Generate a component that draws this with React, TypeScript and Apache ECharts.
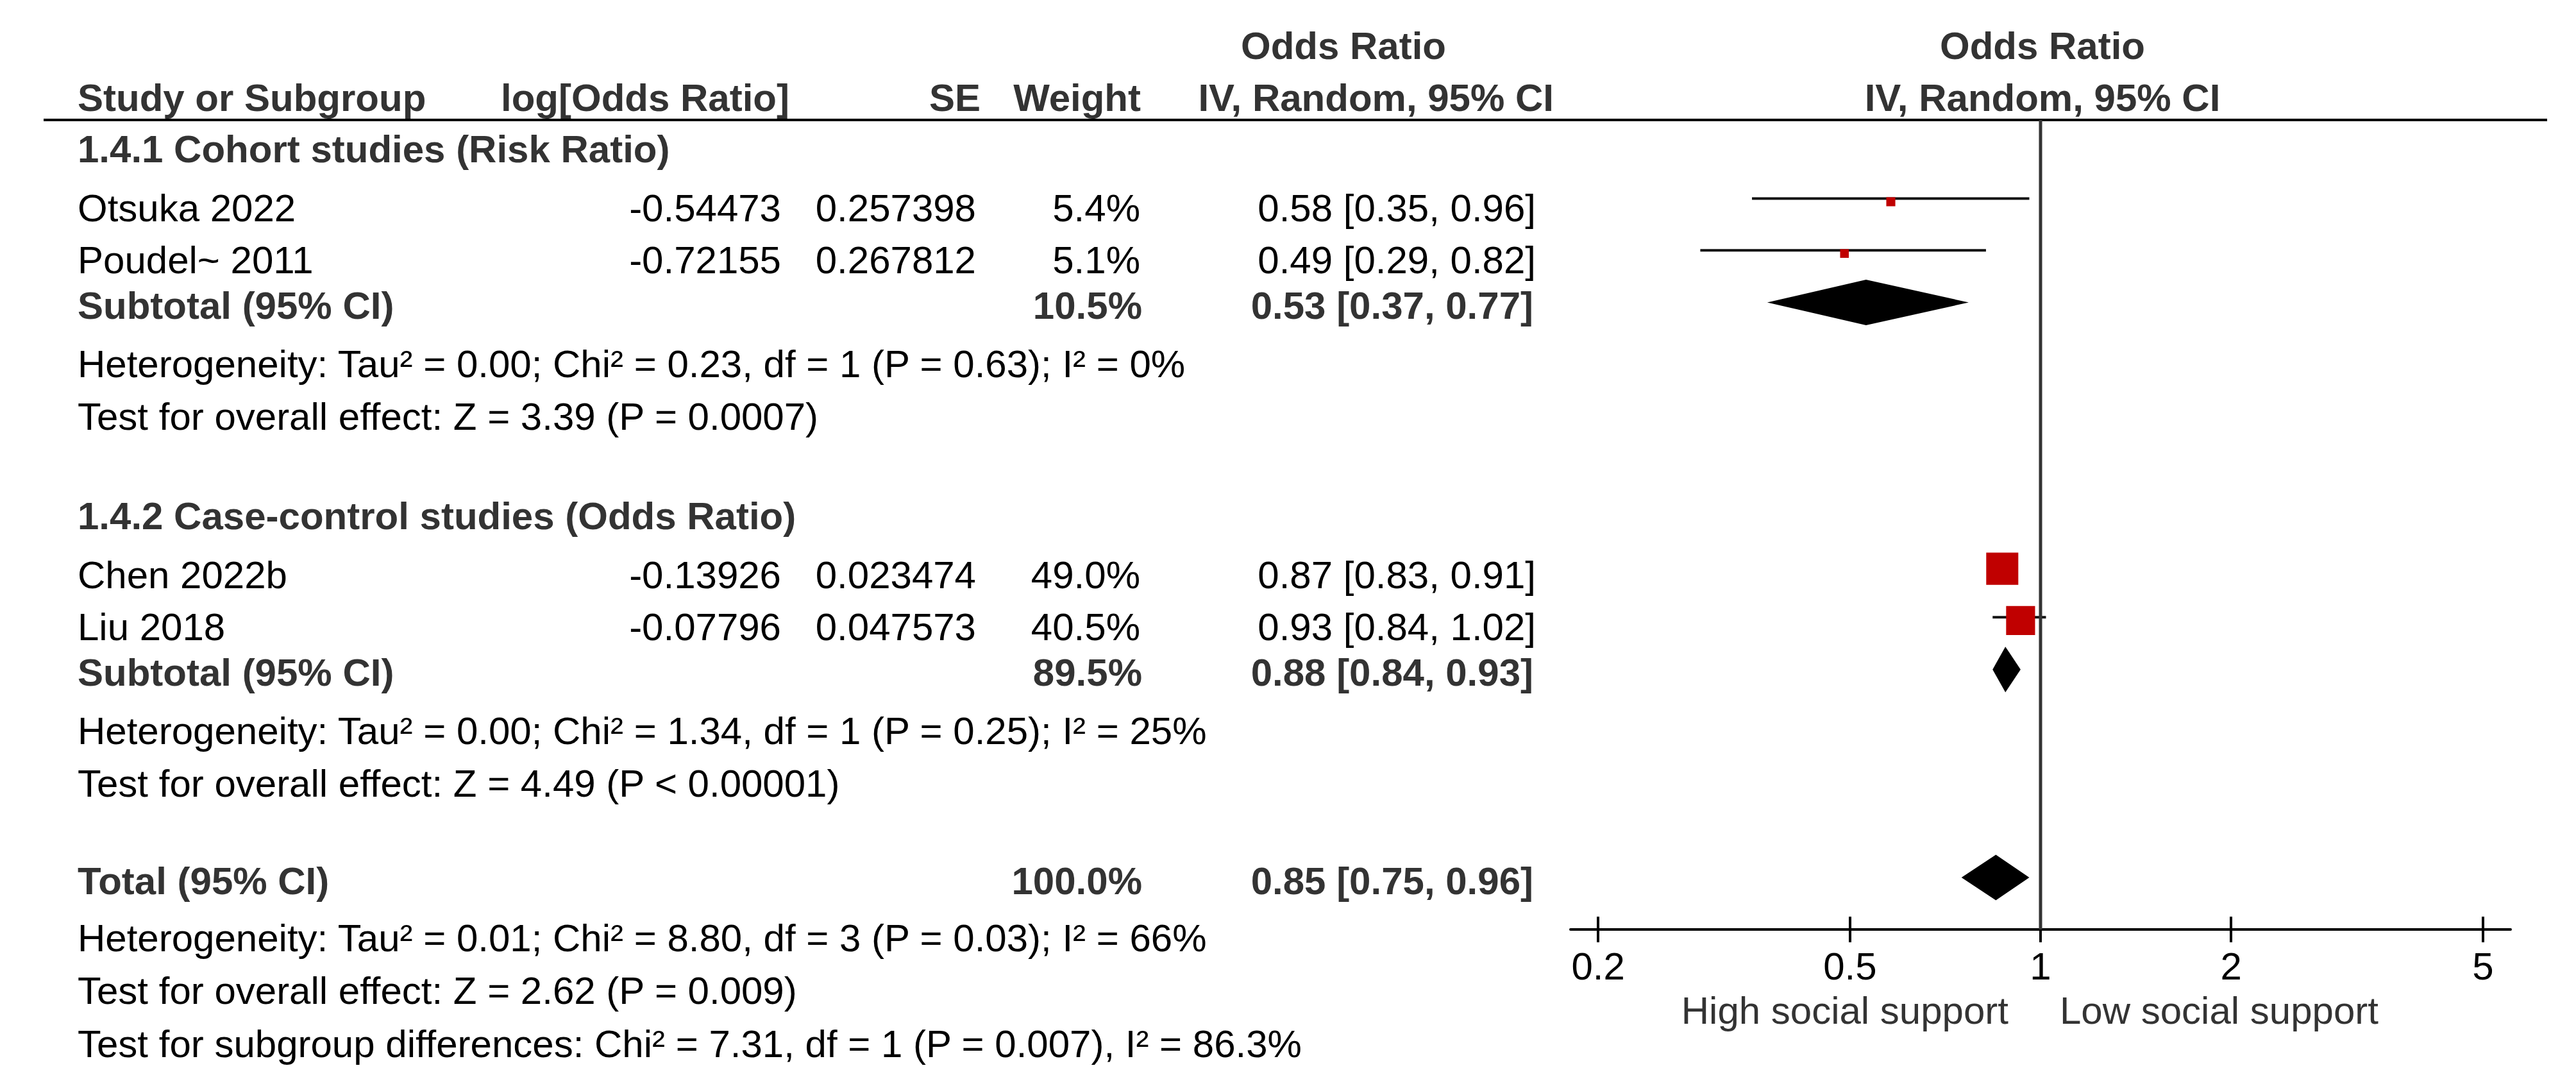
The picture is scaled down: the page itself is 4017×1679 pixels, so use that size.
import React, { useEffect, useRef } from "react";
import * as echarts from "echarts";

// ---------------- data ----------------
const effectTitle = "Odds Ratio";
const columnHeaders = ["Study or Subgroup", "log[Odds Ratio]", "SE", "Weight", "IV, Random, 95% CI"];
const groupTitles = ["1.4.1 Cohort studies (Risk Ratio)", "1.4.2 Case-control studies (Odds Ratio)"];
const studyNames = ["Otsuka 2022", "Poudel~ 2011", "Chen 2022b", "Liu 2018"];
const studyGroup = [0, 0, 1, 1];
const logOddsRatio = ["-0.54473", "-0.72155", "-0.13926", "-0.07796"];
const standardErrors = ["0.257398", "0.267812", "0.023474", "0.047573"];
const studyWeights = [5.4, 5.1, 49.0, 40.5];
const studyOR = [0.58, 0.49, 0.87, 0.93];
const studyLower = [0.35, 0.29, 0.83, 0.84];
const studyUpper = [0.96, 0.82, 0.91, 1.02];
const subtotalWeights = [10.5, 89.5];
const subtotalOR = [0.53, 0.88];
const subtotalLower = [0.37, 0.84];
const subtotalUpper = [0.77, 0.93];
const subtotalHeterogeneity = [
  "Heterogeneity: Tau² = 0.00; Chi² = 0.23, df = 1 (P = 0.63); I² = 0%",
  "Heterogeneity: Tau² = 0.00; Chi² = 1.34, df = 1 (P = 0.25); I² = 25%",
];
const subtotalEffect = [
  "Test for overall effect: Z = 3.39 (P = 0.0007)",
  "Test for overall effect: Z = 4.49 (P < 0.00001)",
];
const totalLabel = "Total (95% CI)";
const subtotalLabel = "Subtotal (95% CI)";
const totalWeight = [100.0];
const totalOR = [0.85];
const totalLower = [0.75];
const totalUpper = [0.96];
const totalNotes = [
  "Heterogeneity: Tau² = 0.01; Chi² = 8.80, df = 3 (P = 0.03); I² = 66%",
  "Test for overall effect: Z = 2.62 (P = 0.009)",
  "Test for subgroup differences: Chi² = 7.31, df = 1 (P = 0.007), I² = 86.3%",
];
const tickValues = [0.2, 0.5, 1, 2, 5];
const directionLabels = ["High social support", "Low social support"];

// ---------------- layout ----------------
const W = 4017;
const H = 1679;
const ROW_PX = 81.5;
const ROW0_PX = 232;
const Y_MIN = -ROW0_PX / ROW_PX;
const Y_MAX_A = (H - ROW0_PX) / ROW_PX;
const AXIS_PX = 1449;
const Y_MAX_B = (AXIS_PX - ROW0_PX) / ROW_PX;
const PLOT_LEFT = 2449;
const PLOT_WIDTH = 1466;
const X_HALF = 0.7427;

const groupRowStart = [0, 7.02];
const studyRowOffsets = [1.135, 2.125];
const subtotalRowOffset = 3.0;
const hetRowOffset = 4.115;
const effectRowOffset = 5.125;
const totalRow = 14.0;
const totalNoteRows = [15.1, 16.11, 17.12];
const headerRows = [-1.975, -0.98];
const ruleRow = -0.552;
const directionRow = 16.49;

const COL_STUDY = 121;
const COL_LOG = 1218;
const COL_SE = 1522;
const COL_WEIGHT = 1778;
const COL_CI = 2395;
const HEAD_RIGHT = [0, 1231, 1529, 1779, 2423];
const HEAD_OR_CENTER = 2095;
const PLOT_HEAD_CENTER = 3185;

const FONT = "'Liberation Sans', Arial, Helvetica, sans-serif";
const DARK = "#333333";

type Cell = { x: number; row: number; text: string; align: "left" | "right" | "center"; bold?: boolean; color?: string; size?: number };

const fmtCI = (e: number, l: number, u: number) => `${e.toFixed(2)} [${l.toFixed(2)}, ${u.toFixed(2)}]`;
const fmtW = (w: number) => `${w.toFixed(1)}%`;

function studyRow(i: number) {
  const g = studyGroup[i];
  let k = 0;
  for (let j = 0; j < i; j++) if (studyGroup[j] === g) k++;
  return groupRowStart[g] + studyRowOffsets[k];
}

function buildCells(): Cell[] {
  const cells: Cell[] = [];
  cells.push({ x: HEAD_OR_CENTER, row: headerRows[0], text: effectTitle, align: "center", bold: true });
  cells.push({ x: PLOT_HEAD_CENTER, row: headerRows[0], text: effectTitle, align: "center", bold: true });
  cells.push({ x: COL_STUDY, row: headerRows[1], text: columnHeaders[0], align: "left", bold: true });
  for (let c = 1; c < columnHeaders.length; c++) {
    cells.push({ x: HEAD_RIGHT[c], row: headerRows[1], text: columnHeaders[c], align: "right", bold: true });
  }
  cells.push({ x: PLOT_HEAD_CENTER, row: headerRows[1], text: columnHeaders[4], align: "center", bold: true });

  groupTitles.forEach((t, g) => {
    const r0 = groupRowStart[g];
    cells.push({ x: COL_STUDY, row: r0, text: t, align: "left", bold: true });
    cells.push({ x: COL_STUDY, row: r0 + subtotalRowOffset, text: subtotalLabel, align: "left", bold: true });
    cells.push({ x: COL_WEIGHT + 3, row: r0 + subtotalRowOffset, text: fmtW(subtotalWeights[g]), align: "right", bold: true });
    cells.push({ x: COL_CI - 4, row: r0 + subtotalRowOffset, text: fmtCI(subtotalOR[g], subtotalLower[g], subtotalUpper[g]), align: "right", bold: true });
    cells.push({ x: COL_STUDY, row: r0 + hetRowOffset, text: subtotalHeterogeneity[g], align: "left" });
    cells.push({ x: COL_STUDY, row: r0 + effectRowOffset, text: subtotalEffect[g], align: "left" });
  });

  studyNames.forEach((n, i) => {
    const r = studyRow(i);
    cells.push({ x: COL_STUDY, row: r, text: n, align: "left" });
    cells.push({ x: COL_LOG, row: r, text: logOddsRatio[i], align: "right" });
    cells.push({ x: COL_SE, row: r, text: standardErrors[i], align: "right" });
    cells.push({ x: COL_WEIGHT, row: r, text: fmtW(studyWeights[i]), align: "right" });
    cells.push({ x: COL_CI, row: r, text: fmtCI(studyOR[i], studyLower[i], studyUpper[i]), align: "right" });
  });

  cells.push({ x: COL_STUDY, row: totalRow, text: totalLabel, align: "left", bold: true });
  cells.push({ x: COL_WEIGHT + 3, row: totalRow, text: fmtW(totalWeight[0]), align: "right", bold: true });
  cells.push({ x: COL_CI - 4, row: totalRow, text: fmtCI(totalOR[0], totalLower[0], totalUpper[0]), align: "right", bold: true });
  totalNotes.forEach((t, k) => cells.push({ x: COL_STUDY, row: totalNoteRows[k], text: t, align: "left" }));

  cells.push({ x: 3132, row: directionRow, text: directionLabels[0], align: "right", color: DARK });
  cells.push({ x: 3212, row: directionRow, text: directionLabels[1], align: "left", color: DARK });
  return cells;
}

function buildOption() {
  const cells = buildCells();
  const lg = Math.log10;

  const studyData = studyOR.map((v, i) => [lg(v), studyRow(i), lg(studyLower[i]), lg(studyUpper[i]), studyWeights[i]]);
  const diamondData = [
    ...subtotalOR.map((v, g) => [lg(v), groupRowStart[g] + subtotalRowOffset, lg(subtotalLower[g]), lg(subtotalUpper[g])]),
    [lg(totalOR[0]), totalRow, lg(totalLower[0]), lg(totalUpper[0])],
  ];
  const tickLogs = tickValues.map((t) => lg(t));

  const baseX = {
    type: "value",
    gridIndex: 1,
    min: -X_HALF,
    max: X_HALF,
    position: "bottom",
    splitLine: { show: false },
  };

  return {
    animation: false,
    backgroundColor: "#ffffff",
    textStyle: { fontFamily: FONT },
    grid: [
      { left: 0, top: 0, width: W, height: H, containLabel: false, outerBoundsMode: "none" },
      { left: PLOT_LEFT, top: 0, width: PLOT_WIDTH, height: AXIS_PX, containLabel: false, outerBoundsMode: "none" },
    ],
    xAxis: [
      { type: "value", gridIndex: 0, min: 0, max: W, show: false },
      {
        ...baseX,
        axisLine: { show: true, onZero: false, lineStyle: { color: "#000", width: 4 } },
        axisTick: { show: true, inside: false, length: 20, customValues: tickLogs, lineStyle: { color: "#000", width: 4 } },
        axisLabel: {
          show: true,
          customValues: tickLogs,
          margin: 27,
          fontSize: 60,
          color: "#000",
          fontFamily: FONT,
          formatter: (v: number) => String(+Math.pow(10, v).toPrecision(2)),
        },
      },
      {
        ...baseX,
        axisLine: { show: false, onZero: false },
        axisTick: { show: true, inside: true, length: 20, customValues: tickLogs, lineStyle: { color: "#000", width: 4 } },
        axisLabel: { show: false },
      },
    ],
    yAxis: [
      { type: "value", gridIndex: 0, min: Y_MIN, max: Y_MAX_A, inverse: true, show: false },
      { type: "value", gridIndex: 1, min: Y_MIN, max: Y_MAX_B, inverse: true, show: false },
    ],
    series: [
      {
        type: "line",
        xAxisIndex: 0,
        yAxisIndex: 0,
        data: [[68, ruleRow], [3972, ruleRow]],
        symbol: "none",
        silent: true,
        lineStyle: { color: "#000", width: 4 },
      },
      {
        type: "line",
        xAxisIndex: 1,
        yAxisIndex: 1,
        data: [[0, ruleRow], [0, Y_MAX_B]],
        symbol: "none",
        silent: true,
        lineStyle: { color: DARK, width: 5 },
      },
      {
        type: "custom",
        xAxisIndex: 1,
        yAxisIndex: 1,
        silent: true,
        data: studyData,
        encode: { x: [0, 2, 3], y: 1 },
        renderItem: (params: any, api: any) => {
          const est = api.coord([api.value(0), api.value(1)]);
          const lo = api.coord([api.value(2), api.value(1)]);
          const hi = api.coord([api.value(3), api.value(1)]);
          const side = 7.69 * Math.sqrt(api.value(4)) - 3.8;
          const ly = est[1] - 15;
          const sy = est[1] - 10;
          return {
            type: "group",
            children: [
              { type: "line", shape: { x1: lo[0], y1: ly, x2: hi[0], y2: ly }, style: { stroke: "#111", lineWidth: 4 } },
              { type: "rect", shape: { x: est[0] - side / 2, y: sy - side / 2, width: side, height: side }, style: { fill: "#c00000" } },
            ],
          };
        },
      },
      {
        type: "custom",
        xAxisIndex: 1,
        yAxisIndex: 1,
        silent: true,
        data: diamondData,
        encode: { x: [0, 2, 3], y: 1 },
        renderItem: (params: any, api: any) => {
          const est = api.coord([api.value(0), api.value(1)]);
          const lo = api.coord([api.value(2), api.value(1)]);
          const hi = api.coord([api.value(3), api.value(1)]);
          const c = est[1] - 5;
          const h = 35.5;
          return {
            type: "polygon",
            shape: { points: [[lo[0], c], [est[0], c - h], [hi[0], c], [est[0], c + h]] },
            style: { fill: "#000" },
          };
        },
      },
      {
        type: "custom",
        xAxisIndex: 0,
        yAxisIndex: 0,
        silent: true,
        data: cells.map((c) => [c.x, c.row]),
        renderItem: (params: any, api: any) => {
          const cell = cells[params.dataIndex];
          const p = api.coord([api.value(0), api.value(1)]);
          return {
            type: "text",
            x: p[0],
            y: p[1],
            style: {
              text: cell.text,
              fill: cell.color || (cell.bold ? DARK : "#000"),
              fontSize: cell.size || 60,
              fontWeight: cell.bold ? "bold" : "normal",
              fontFamily: FONT,
              align: cell.align,
              verticalAlign: "middle",
            },
          };
        },
      },
    ],
  };
}

export default function App() {
  const ref = useRef<HTMLDivElement>(null);
  useEffect(() => {
    document.body.style.margin = "0";
    const chart = echarts.init(ref.current!, null, { renderer: "svg", width: W, height: H });
    chart.setOption(buildOption() as any);
    return () => chart.dispose();
  }, []);
  return <div ref={ref} style={{ position: "fixed", left: 0, top: 0, width: W, height: H, background: "#fff" }} />;
}
